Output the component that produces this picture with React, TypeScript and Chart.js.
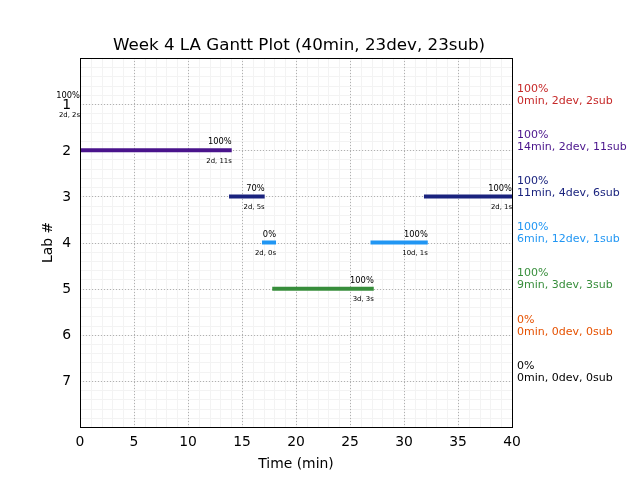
import React, { useEffect, useRef } from "react";
import { Chart, registerables } from "chart.js";

Chart.register(...registerables);

const TITLE = "Week 4 LA Gantt Plot (40min, 23dev, 23sub)";
const X_LABEL = "Time (min)";
const Y_LABEL = "Lab #";

const labs = [1, 2, 3, 4, 5, 6, 7];
const labColors = ["#c62828", "#4a148c", "#1a237e", "#2196f3", "#388e3c", "#e65100", "#000000"];
const labPct = [100, 100, 100, 100, 100, 0, 0];
const labMin = [0, 14, 11, 6, 9, 0, 0];
const labDev = [2, 2, 4, 12, 3, 0, 0];
const labSub = [2, 11, 6, 1, 3, 0, 0];

const segLab = [1, 2, 3, 3, 4, 4, 5];
const segStart = [0, 0, 13.8, 31.85, 16.85, 26.9, 17.8];
const segEnd = [0, 14.05, 17.1, 40, 18.15, 32.2, 27.2];
const segPct = [100, 100, 70, 100, 0, 100, 100];
const segDev = [2, 2, 2, 2, 2, 10, 3];
const segSub = [2, 11, 5, 1, 0, 1, 3];

const xTicks = [0, 5, 10, 15, 20, 25, 30, 35, 40];

const FONT = "'DejaVu Sans', sans-serif";

export default function App() {
  const ref = useRef<HTMLCanvasElement | null>(null);

  useEffect(() => {
    if (!ref.current) return;
    const datasets = segLab.map((lab, i) => ({
      label: "seg" + i,
      data: [
        { x: segStart[i], y: lab },
        { x: segEnd[i], y: lab },
      ],
      showLine: true,
      borderColor: labColors[lab - 1],
      backgroundColor: labColors[lab - 1],
      borderWidth: 4,
      borderCapStyle: "butt" as const,
      pointRadius: 0,
      pointHoverRadius: 0,
    }));

    const custom = {
      id: "custom",
      beforeDatasetsDraw(chart: any) {
        const ctx = chart.ctx;
        const xs = chart.scales.x;
        const ys = chart.scales.y;
        const a = chart.chartArea;
        ctx.save();
        // minor grid
        ctx.strokeStyle = "#f3f3f3";
        ctx.lineWidth = 1;
        for (let v = 0; v <= 40; v += 1) {
          const px = Math.round(xs.getPixelForValue(v)) + 0.5;
          ctx.beginPath();
          ctx.moveTo(px, a.top);
          ctx.lineTo(px, a.bottom);
          ctx.stroke();
        }
        for (let k = 0; k <= 40; k++) {
          const v = k * 0.2;
          const py = Math.round(ys.getPixelForValue(v)) + 0.5;
          ctx.beginPath();
          ctx.moveTo(a.left, py);
          ctx.lineTo(a.right, py);
          ctx.stroke();
        }
        // major grid dotted
        ctx.strokeStyle = "#b0b0b0";
        ctx.setLineDash([1, 2]);
        for (const v of xTicks) {
          const px = Math.round(xs.getPixelForValue(v)) + 0.5;
          ctx.beginPath();
          ctx.moveTo(px, a.top);
          ctx.lineTo(px, a.bottom);
          ctx.stroke();
        }
        for (const lab of labs) {
          const py = Math.round(ys.getPixelForValue(lab)) + 0.5;
          ctx.beginPath();
          ctx.moveTo(a.left, py);
          ctx.lineTo(a.right, py);
          ctx.stroke();
        }
        ctx.restore();
      },
      afterDatasetsDraw(chart: any) {
        const ctx = chart.ctx;
        const xs = chart.scales.x;
        const ys = chart.scales.y;
        const a = chart.chartArea;
        ctx.save();
        // frame
        ctx.strokeStyle = "#000";
        ctx.lineWidth = 1;
        ctx.setLineDash([]);
        ctx.strokeRect(Math.round(a.left) + 0.5, Math.round(a.top) + 0.5, Math.round(a.right - a.left), Math.round(a.bottom - a.top));

        // segment annotations
        ctx.fillStyle = "#000";
        ctx.textAlign = "right";
        ctx.textBaseline = "middle";
        segLab.forEach((lab, i) => {
          const px = xs.getPixelForValue(segEnd[i]);
          const py = ys.getPixelForValue(lab);
          ctx.font = `8.3px ${FONT}`;
          ctx.fillText(segPct[i] + "%", px, py - 8);
          ctx.font = `6.9px ${FONT}`;
          ctx.fillText(`${segDev[i]}d, ${segSub[i]}s`, px, py + 11);
        });

        // right-side labels
        ctx.textAlign = "left";
        ctx.font = `11px ${FONT}`;
        labs.forEach((lab, i) => {
          const py = ys.getPixelForValue(lab);
          ctx.fillStyle = labColors[i];
          ctx.fillText(labPct[i] + "%", a.right + 5, py - 15);
          ctx.fillText(`${labMin[i]}min, ${labDev[i]}dev, ${labSub[i]}sub`, a.right + 5, py - 3);
        });

        // tick labels
        ctx.fillStyle = "#000";
        ctx.font = `13.9px ${FONT}`;
        ctx.textAlign = "center";
        for (const v of xTicks) {
          ctx.fillText(String(v), xs.getPixelForValue(v), a.bottom + 15);
        }
        ctx.textAlign = "right";
        for (const lab of labs) {
          ctx.fillText(String(lab), a.left - 9, ys.getPixelForValue(lab) + 1);
        }

        // axis titles
        ctx.textAlign = "center";
        ctx.fillText(X_LABEL, (a.left + a.right) / 2, a.bottom + 37);
        ctx.save();
        ctx.translate(a.left - 32, (a.top + a.bottom) / 2);
        ctx.rotate(-Math.PI / 2);
        ctx.fillText(Y_LABEL, 0, 0);
        ctx.restore();

        // title
        ctx.font = `16.7px ${FONT}`;
        ctx.fillText(TITLE, (a.left + a.right) / 2 + 3, a.top - 12);
        ctx.restore();
      },
    };

    const chart = new Chart(ref.current, {
      type: "scatter",
      data: { datasets },
      options: {
        animation: false,
        responsive: true,
        maintainAspectRatio: false,
        layout: { padding: { left: 0, top: 58, right: 128, bottom: 0 } },
        plugins: {
          legend: { display: false },
          tooltip: { enabled: false },
          title: { display: false },
        },
        scales: {
          x: {
            type: "linear",
            min: 0,
            max: 40,
            ticks: { display: false, stepSize: 5 },
            grid: { display: false, drawTicks: false },
            border: { display: false },
            afterFit: (s: any) => {
              s.height = 53;
            },
          },
          y: {
            type: "linear",
            min: 0,
            max: 8,
            reverse: true,
            ticks: { display: false, stepSize: 1 },
            grid: { display: false, drawTicks: false },
            border: { display: false },
            afterFit: (s: any) => {
              s.width = 80;
            },
          },
        },
      },
      plugins: [custom],
    });
    return () => chart.destroy();
  }, []);

  return (
    <div style={{ position: "absolute", left: 0, top: 0, width: 640, height: 480, background: "#fff" }}>
      <canvas ref={ref} />
    </div>
  );
}
